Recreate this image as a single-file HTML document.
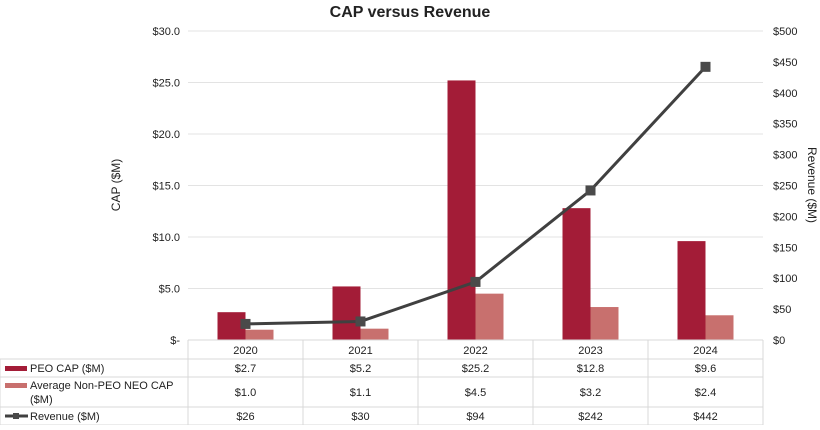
<!DOCTYPE html>
<html><head><meta charset="utf-8"><style>
body{margin:0;background:#fff;font-family:"Liberation Sans",sans-serif;}
svg text{font-family:"Liberation Sans",sans-serif;fill:#222;}
</style></head><body>
<svg width="820" height="425" xmlns="http://www.w3.org/2000/svg">
<text x="410" y="17" text-anchor="middle" font-size="16" font-weight="bold">CAP versus Revenue</text>
<text transform="translate(120,185) rotate(-90)" text-anchor="middle" font-size="12">CAP ($M)</text>
<text transform="translate(808,185) rotate(90)" text-anchor="middle" font-size="12">Revenue ($M)</text>
<g id="grid"></g><g id="bars"></g><g id="line"></g><g id="axes"></g><g id="table"></g>
</svg>
<script>
const years=["2020","2021","2022","2023","2024"];
const peo=[2.7,5.2,25.2,12.8,9.6];
const neo=[1.0,1.1,4.5,3.2,2.4];
const revenue=[26,30,94,242,442];
const leftTicks=[0,5,10,15,20,25,30];
const leftLabels=["$-","$5.0","$10.0","$15.0","$20.0","$25.0","$30.0"];
const rightTicks=[0,50,100,150,200,250,300,350,400,450,500];
const peoLabels=["$2.7","$5.2","$25.2","$12.8","$9.6"];
const neoLabels=["$1.0","$1.1","$4.5","$3.2","$2.4"];
const revLabels=["$26","$30","$94","$242","$442"];
const X0=188,CW=115,Y0=340,Y1=31;
const yL=v=>Y0-(v/30)*(Y0-Y1), yR=v=>Y0-(v/500)*(Y0-Y1), xC=i=>X0+CW*i+CW/2;
const NS="http://www.w3.org/2000/svg";
function mk(p,t,a,txt){const e=document.createElementNS(NS,t);for(const k in a)e.setAttribute(k,a[k]);if(txt!==undefined)e.textContent=txt;document.getElementById(p).appendChild(e);return e;}
leftTicks.forEach((v,i)=>{
 if(v>0){const g=mk("grid","line",{x1:X0,x2:X0+CW*5,y1:yL(v),y2:yL(v),stroke:"#e3e3e3","stroke-width":1});
 
 }
 const t=mk("axes","text",{x:180,y:yL(v)+4,"text-anchor":"end","font-size":11},leftLabels[i]);
 
 
});
rightTicks.forEach(v=>{
 const t=mk("axes","text",{x:773,y:yR(v)+4,"font-size":11},"$"+v);
 
 
});
const BW=28;
years.forEach((y,i)=>{
 const c=xC(i);
 const b=mk("bars","rect",{x:c-BW,y:yL(peo[i]),width:BW,height:Y0-yL(peo[i]),fill:"#a31c37"});
 
 
 const n=mk("bars","rect",{x:c,y:yL(neo[i]),width:BW,height:Y0-yL(neo[i]),fill:"#c8706e"});
 
 
});
const pl=mk("line","polyline",{points:revenue.map((v,i)=>xC(i)+","+yR(v)).join(" "),fill:"none",stroke:"#404040","stroke-width":3});


revenue.forEach((v,i)=>{
 const m=mk("line","rect",{x:xC(i)-5,y:yR(v)-5,width:10,height:10,fill:"#4a4a4a"});
 
 
});
// table
const rows=[340,359,377,407,425];
const L=(x1,y1,x2,y2)=>{const l=mk("table","line",{x1,y1,x2,y2,stroke:"#d8d8d8","stroke-width":1});};
L(X0,340,X0+CW*5,340);
for(let r=1;r<rows.length;r++)L(0,rows[r],X0+CW*5,rows[r]);
L(0,359,0,425);
for(let c=0;c<=5;c++)L(X0+CW*c,340,X0+CW*c,425);
const cellRows=[[years,354],[peoLabels,372],[neoLabels,396],[revLabels,420]];
cellRows.forEach(([arr,yy],r)=>arr.forEach((s,i)=>{
 const t=mk("table","text",{x:xC(i),y:yy,"text-anchor":"middle","font-size":11},s);
 
 
}));
const k1=mk("table","rect",{x:5,y:366,width:22,height:5,fill:"#a31c37"});
const l1=mk("table","text",{x:30,y:372,"font-size":11},"PEO CAP ($M)");
const k2=mk("table","rect",{x:5,y:383,width:22,height:5,fill:"#c8706e"});
const l2=mk("table","text",{x:30,y:389,"font-size":11},"Average Non-PEO NEO CAP");
const l2b=mk("table","text",{x:30,y:403,"font-size":11},"($M)");
const k3=mk("table","line",{x1:5,y1:416,x2:28,y2:416,stroke:"#404040","stroke-width":3});
const k3m=mk("table","rect",{x:13,y:413,width:6,height:6,fill:"#4a4a4a"});
const l3=mk("table","text",{x:30,y:420,"font-size":11},"Revenue ($M)");
</script>
</body></html>
